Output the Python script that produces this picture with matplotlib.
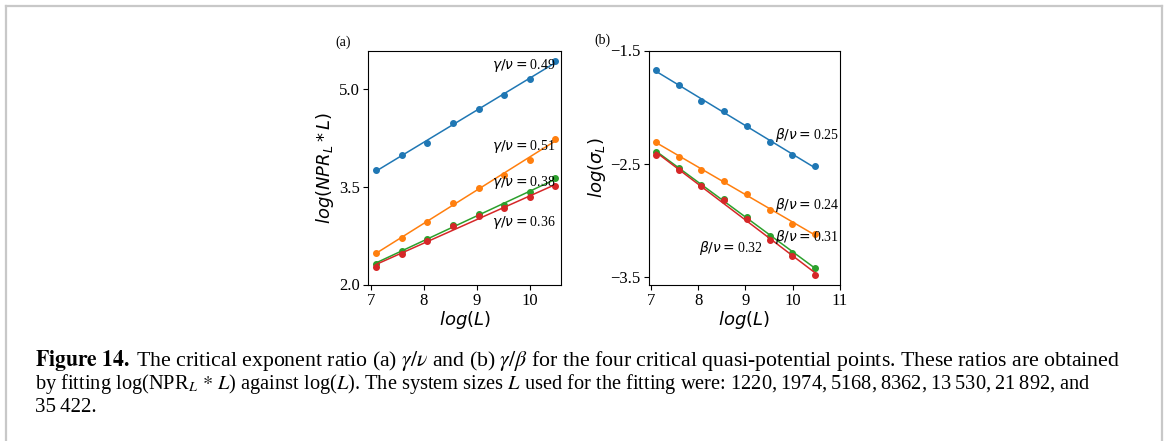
import numpy as np
import matplotlib
matplotlib.use('Agg')
import matplotlib.pyplot as plt
from matplotlib.lines import Line2D

plt.rcParams['font.family'] = ['Liberation Serif', 'DejaVu Serif']
plt.rcParams['mathtext.fontset'] = 'dejavusans'
plt.rcParams['axes.unicode_minus'] = True

# log(L) for L = 1220, 1974, 3194, 5168, 8362, 13530, 21892, 35422
logL = [7.107, 7.588, 8.069, 8.550, 9.031, 9.513, 9.994, 10.475]

# panel (a): log(NPR_L * L)
npr_blue = [3.765, 3.99, 4.18, 4.48, 4.70, 4.91, 5.16, 5.44]
npr_orange = [2.49, 2.71, 2.96, 3.26, 3.49, 3.69, 3.92, 4.24]
npr_green = [2.32, 2.52, 2.70, 2.91, 3.09, 3.22, 3.42, 3.63]
npr_red = [2.27, 2.47, 2.67, 2.90, 3.05, 3.17, 3.35, 3.51]
labels_a = ['0.49', '0.51', '0.38', '0.36']

# panel (b): log(sigma_L)
sig_blue = [-1.676, -1.802, -1.946, -2.037, -2.172, -2.306, -2.427, -2.523]
sig_orange = [-2.309, -2.438, -2.556, -2.650, -2.770, -2.913, -3.034, -3.119]
sig_green = [-2.397, -2.538, -2.688, -2.817, -2.972, -3.145, -3.289, -3.421]
sig_red = [-2.421, -2.559, -2.699, -2.823, -2.987, -3.172, -3.321, -3.482]
labels_b = ['0.25', '0.24', '0.31', '0.32']

colors = ['C0', 'C1', 'C2', 'C3']

W, H = 1165, 441
fig = plt.figure(figsize=(W / 100, H / 100), dpi=100)


def px(x0, y0, x1, y1):
    # pixel box (top-left origin) -> figure fraction rect
    return [x0 / W, 1 - y1 / H, (x1 - x0) / W, (y1 - y0) / H]


def draw(ax, series):
    x = np.array(logL)
    for ys, c in zip(series, colors):
        k, b = np.polyfit(x, ys, 1)
        xx = np.array([x[0], x[-1]])
        ax.plot(xx, k * xx + b, color=c, lw=1.1)
        ax.plot(x, ys, 'o', color=c, ms=4)


ax1 = fig.add_axes(px(368, 51, 561, 284.5))
draw(ax1, [npr_blue, npr_orange, npr_green, npr_red])
ax1.set_xlim(6.95, 10.58)
ax1.set_ylim(2.0, 5.59)
ax1.set_xticks([7, 8, 9, 10])
ax1.set_yticks([2.0, 3.5, 5.0])
ax1.set_xlabel('$log(L)$', fontsize=13, labelpad=0)
ax1.set_ylabel('$log(NPR_L*L)$', fontsize=13, labelpad=2)
ax1.tick_params(labelsize=12, pad=2.5)
for (tx, ty), lab in zip([(9.29, 5.37), (9.29, 4.12), (9.29, 3.57), (9.29, 2.96)], labels_a):
    ax1.text(tx, ty, r'$\gamma/\nu=$' + lab, fontsize=10, va='center')

ax2 = fig.add_axes(px(648.5, 50.5, 840, 284.5))
draw(ax2, [sig_blue, sig_orange, sig_green, sig_red])
ax2.set_xlim(6.95, 11.0)
ax2.set_ylim(-3.57, -1.5)
ax2.set_xticks([7, 8, 9, 10, 11])
ax2.set_yticks([-1.5, -2.5, -3.5])
ax2.set_xlabel('$log(L)$', fontsize=13, labelpad=0)
ax2.set_ylabel(r'$log(\sigma_L)$', fontsize=13, labelpad=1)
ax2.tick_params(labelsize=12, pad=2.5)
for (tx, ty), lab in zip([(9.62, -2.25), (9.62, -2.863), (9.62, -3.147), (8.01, -3.244)], labels_b):
    ax2.text(tx, ty, r'$\beta/\nu=$' + lab, fontsize=10, va='center')

fig.text(343 / W, 1 - 42 / H, '(a)', fontsize=10, ha='center', va='center')
fig.text(602 / W, 1 - 40 / H, '(b)', fontsize=10, ha='center', va='center')

# page frame
fc = '#c8c8c8'
fig.add_artist(Line2D([6 / W, 6 / W], [0, 1 - 6 / H], color=fc, lw=1.6, transform=fig.transFigure))
fig.add_artist(Line2D([6 / W, 1162 / W], [1 - 6 / H, 1 - 6 / H], color=fc, lw=1.6, transform=fig.transFigure))
fig.add_artist(Line2D([1162 / W, 1162 / W], [0, 1 - 6 / H], color=fc, lw=1.6, transform=fig.transFigure))

# caption
cap1 = (r'$\mathbf{Figure\ 14.}$' + '\u2009The critical exponent ratio (a) $\\gamma/\\nu$ and (b) $\\gamma/\\beta$ '
        'for the four critical quasi-potential points. These ratios are obtained')
cap2 = (r'by fitting log(NPR$_L$ $*$ $L$) against log($L$). The system sizes $L$ used for the fitting '
        'were: 1220,\u20091974,\u20095168,\u20098362,\u200913\u2009530,\u200921\u2009892, and')
cap3 = '35\u2009422.'
for i, (c, fs) in enumerate(zip([cap1, cap2, cap3], [15.7, 14.7, 15.0])):
    fig.text(35 / W, 1 - (366 + 23 * i) / H, c, fontsize=fs, ha='left', va='baseline',
             math_fontfamily='stix')

fig.savefig('out.png', dpi=100)
